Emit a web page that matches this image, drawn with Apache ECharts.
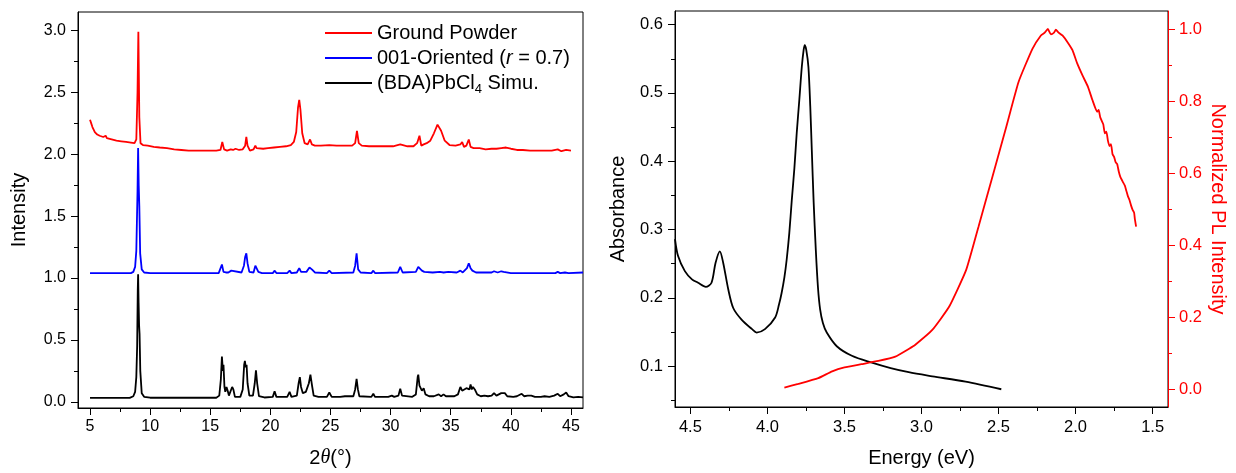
<!DOCTYPE html>
<html><head><meta charset="utf-8">
<script src="https://cdn.jsdelivr.net/npm/echarts@6/dist/echarts.min.js"></script>
<style>html,body{margin:0;padding:0;background:#fff}#c{width:1236px;height:473px}</style>
</head><body><div id="c"></div>
<script>
// ---------- XRD (left panel) ----------
const groundX = [5.0,5.1,5.2,5.4,5.6,5.8,6.1,6.3,6.4,6.8,7.2,7.6,8.0,8.4,8.7,8.85,8.95,9.02,9.1,9.2,9.4,9.8,10.3,10.8,11.4,12.0,12.6,13.2,13.8,14.4,15.0,15.5,15.85,16.0,16.15,16.4,16.7,16.9,17.1,17.4,17.7,17.9,18.0,18.1,18.3,18.6,18.75,18.85,19.0,19.4,19.8,20.3,20.8,21.3,21.7,21.95,22.15,22.3,22.4,22.5,22.65,22.85,23.1,23.3,23.45,23.7,24.2,24.9,25.5,26.2,26.8,27.05,27.2,27.35,27.6,28.2,28.8,29.5,30.2,30.8,31.4,31.9,32.2,32.4,32.55,32.75,33.0,33.3,33.6,33.9,34.2,34.5,34.9,35.4,35.8,35.95,36.1,36.3,36.5,36.65,36.9,37.4,37.9,38.4,38.8,39.2,39.6,40.0,40.5,41.0,41.6,42.2,42.8,43.4,43.9,44.2,44.6,45.0];
const groundY = [2.28,2.25,2.22,2.18,2.16,2.15,2.14,2.15,2.13,2.12,2.11,2.105,2.10,2.095,2.09,2.12,2.5,2.99,2.3,2.09,2.075,2.07,2.06,2.055,2.05,2.04,2.035,2.03,2.03,2.03,2.03,2.03,2.035,2.10,2.04,2.03,2.04,2.035,2.045,2.035,2.04,2.07,2.14,2.07,2.03,2.04,2.07,2.05,2.04,2.045,2.05,2.055,2.06,2.065,2.075,2.10,2.18,2.38,2.44,2.36,2.17,2.09,2.08,2.12,2.08,2.07,2.07,2.075,2.07,2.07,2.07,2.09,2.19,2.09,2.07,2.065,2.065,2.065,2.065,2.08,2.065,2.065,2.09,2.15,2.07,2.08,2.09,2.11,2.17,2.24,2.19,2.11,2.075,2.07,2.08,2.10,2.06,2.07,2.12,2.06,2.05,2.05,2.04,2.045,2.045,2.05,2.055,2.045,2.035,2.035,2.03,2.03,2.03,2.03,2.04,2.025,2.035,2.03];

const orientX = [5.0,8.4,8.6,8.75,8.85,8.95,9.0,9.05,9.1,9.17,9.3,9.5,10.0,15.7,15.85,15.97,16.1,16.3,16.4,16.5,16.75,16.9,17.6,17.8,17.9,18.0,18.1,18.25,18.6,18.75,18.85,19.0,19.3,20.2,20.36,20.5,21.4,21.6,21.75,22.2,22.4,22.55,23.0,23.25,23.45,23.7,24.7,24.9,25.1,26.9,27.05,27.17,27.3,27.5,28.4,28.56,28.7,30.6,30.8,31.0,32.1,32.3,32.45,32.6,32.8,33.5,34.1,34.4,34.8,35.5,35.8,36.0,36.35,36.5,36.65,36.8,37.1,38.4,38.6,38.9,39.2,39.4,40.0,40.9,41.0,41.2,43.7,43.9,44.1,44.5,44.6,44.8,46.0];
const orientY = [1.04,1.04,1.05,1.09,1.22,1.7,2.05,1.75,1.58,1.2,1.07,1.045,1.04,1.04,1.05,1.11,1.05,1.045,1.055,1.045,1.06,1.045,1.045,1.1,1.17,1.2,1.12,1.05,1.045,1.1,1.09,1.05,1.04,1.04,1.06,1.04,1.04,1.06,1.04,1.045,1.08,1.05,1.05,1.085,1.07,1.045,1.04,1.06,1.04,1.045,1.1,1.2,1.07,1.045,1.04,1.06,1.04,1.045,1.09,1.045,1.05,1.09,1.09,1.06,1.05,1.045,1.05,1.045,1.05,1.045,1.06,1.045,1.08,1.12,1.08,1.06,1.045,1.045,1.055,1.045,1.055,1.05,1.04,1.04,1.055,1.04,1.04,1.05,1.04,1.045,1.055,1.04,1.045];

const simuX = [5.0,8.3,8.6,8.75,8.85,8.92,8.97,9.0,9.04,9.08,9.12,9.18,9.3,9.5,10.0,15.5,15.75,15.88,15.97,16.05,16.1,16.18,16.25,16.35,16.45,16.55,16.7,16.82,16.92,17.05,17.5,17.7,17.82,17.88,17.95,18.02,18.1,18.25,18.55,18.7,18.8,18.9,19.05,19.5,20.2,20.35,20.5,21.4,21.6,21.75,22.2,22.35,22.45,22.55,22.7,22.8,22.95,23.05,23.2,23.33,23.45,23.6,24.0,24.7,24.9,25.1,25.8,26.2,26.9,27.05,27.17,27.28,27.4,28.4,28.56,28.7,29.8,30.1,30.3,30.65,30.8,30.95,31.8,32.1,32.25,32.3,32.4,32.5,32.6,32.75,32.9,33.2,33.6,34.0,34.2,34.4,34.6,35.0,35.3,35.6,35.8,35.95,36.1,36.3,36.45,36.55,36.65,36.75,36.85,37.0,37.2,37.5,37.8,38.1,38.4,38.6,38.8,39.0,39.2,39.35,39.5,39.7,40.2,40.5,40.9,41.1,41.4,41.7,42.0,42.5,42.8,43.2,43.6,43.9,44.1,44.4,44.6,44.8,45.2,45.6,46.0];
const simuY = [0.032,0.032,0.045,0.08,0.2,0.45,0.9,1.03,0.8,0.62,0.55,0.25,0.07,0.04,0.033,0.033,0.05,0.18,0.365,0.25,0.3,0.12,0.08,0.12,0.09,0.05,0.06,0.12,0.1,0.04,0.04,0.1,0.3,0.33,0.28,0.3,0.15,0.05,0.05,0.15,0.255,0.15,0.045,0.035,0.04,0.085,0.04,0.04,0.08,0.04,0.05,0.15,0.2,0.12,0.07,0.07,0.08,0.07,0.15,0.22,0.14,0.05,0.04,0.04,0.075,0.04,0.04,0.045,0.045,0.1,0.185,0.1,0.045,0.04,0.065,0.04,0.04,0.05,0.04,0.05,0.105,0.05,0.04,0.06,0.2,0.22,0.13,0.125,0.09,0.11,0.06,0.045,0.045,0.06,0.045,0.06,0.045,0.045,0.045,0.06,0.12,0.09,0.085,0.11,0.125,0.1,0.14,0.1,0.12,0.1,0.06,0.045,0.05,0.045,0.05,0.07,0.05,0.06,0.07,0.055,0.07,0.045,0.04,0.045,0.065,0.045,0.05,0.05,0.04,0.04,0.045,0.04,0.05,0.065,0.045,0.06,0.075,0.045,0.035,0.04,0.035];

const xrdXTicks = [5,10,15,20,25,30,35,40,45];
const xrdXMinor = [7.5,12.5,17.5,22.5,27.5,32.5,37.5,42.5];
const xrdYTicks = [0,0.5,1.0,1.5,2.0,2.5,3.0];
const xrdYMinor = [0.25,0.75,1.25,1.75,2.25,2.75];

// ---------- Absorbance / PL (right panel) ----------
const absE = [4.6,4.58,4.536,4.49,4.45,4.40,4.363,4.337,4.309,4.287,4.254,4.222,4.168,4.10,4.07,4.016,3.95,3.925,3.908,3.89,3.875,3.858,3.842,3.825,3.81,3.793,3.777,3.765,3.758,3.748,3.734,3.722,3.712,3.70,3.686,3.672,3.658,3.64,3.615,3.55,3.452,3.322,3.2,3.083,2.93,2.714,2.482];
const absA = [0.286,0.261,0.239,0.227,0.222,0.216,0.222,0.251,0.268,0.251,0.212,0.185,0.168,0.154,0.149,0.154,0.171,0.19,0.207,0.23,0.256,0.295,0.343,0.39,0.441,0.49,0.538,0.563,0.570,0.563,0.538,0.48,0.416,0.34,0.27,0.215,0.183,0.163,0.149,0.129,0.115,0.105,0.097,0.091,0.085,0.077,0.066];

const plE = [3.89,3.80,3.67,3.58,3.50,3.39,3.28,3.17,3.08,3.04,2.93,2.82,2.71,2.63,2.54,2.45,2.37,2.28,2.225,2.20,2.18,2.16,2.14,2.128,2.11,2.085,2.05,2.02,1.99,1.955,1.92,1.89,1.86,1.85,1.84,1.83,1.82,1.81,1.80,1.79,1.78,1.77,1.76,1.75,1.74,1.73,1.72,1.71,1.694,1.68,1.67,1.66,1.65,1.64,1.629,1.62,1.615,1.607];
const plI = [0.004,0.014,0.030,0.049,0.060,0.069,0.078,0.090,0.112,0.123,0.164,0.229,0.331,0.451,0.589,0.728,0.853,0.945,0.982,0.99,1.0,0.985,0.99,0.998,0.99,0.982,0.962,0.941,0.905,0.871,0.84,0.802,0.77,0.775,0.755,0.745,0.735,0.71,0.715,0.69,0.675,0.68,0.652,0.645,0.63,0.625,0.605,0.59,0.576,0.565,0.55,0.535,0.525,0.51,0.497,0.49,0.472,0.451];

const eTicks = [1.5,2.0,2.5,3.0,3.5,4.0,4.5];
const eMinor = [1.75,2.25,2.75,3.25,3.75,4.25];
const absTicks = [0.1,0.2,0.3,0.4,0.5,0.6];
const absMinor = [0.05,0.15,0.25,0.35,0.45,0.55];
const plTicks = [0,0.2,0.4,0.6,0.8,1.0];
const plMinor = [0.1,0.3,0.5,0.7,0.9];

const pairs = (xs, ys) => xs.map((x, i) => [x, ys[i]]);
const FONT = 'Liberation Sans, Arial, sans-serif';

function majorAxis(o) {
  const color = o.color || '#000';
  return Object.assign({
    type: 'value', min: o.min, max: o.max, gridIndex: o.grid, position: o.pos,
    inverse: !!o.inverse,
    axisLine: {show: true, onZero: false, lineStyle: {color: color, width: 1}},
    axisTick: {show: true, inside: false, length: 7, customValues: o.ticks, lineStyle: {color: color, width: 1}},
    axisLabel: {show: true, customValues: o.ticks, margin: o.margin, color: color, fontSize: o.fs || 16, fontFamily: FONT,
      formatter: o.fmt},
    splitLine: {show: false}, minorTick: {show: false}
  }, o.extra || {});
}
function minorAxis(o) {
  const color = o.color || '#000';
  return {
    type: 'value', min: o.min, max: o.max, gridIndex: o.grid, position: o.pos, inverse: !!o.inverse,
    axisLine: {show: false, onZero: false},
    axisTick: {show: true, inside: false, length: 4, customValues: o.ticks, lineStyle: {color: color, width: 1}},
    axisLabel: {show: false}, splitLine: {show: false}
  };
}

const nameStyle = {fontSize: 20, fontFamily: FONT, color: '#000'};

const option = {
  animation: false,
  backgroundColor: '#fff',
  grid: [
    {left: 78, top: 12, width: 505, height: 397, show: true, borderColor: '#000', borderWidth: 1, backgroundColor: 'transparent'},
    {left: 675, top: 11, width: 493, height: 396, show: true, borderColor: '#000', borderWidth: 1, backgroundColor: 'transparent'}
  ],
  legend: {
    left: 325, top: 20, orient: 'vertical', padding: 0, itemGap: -1,
    itemWidth: 47, itemHeight: 2, icon: 'rect',
    data: ['Ground Powder', '001-Oriented (r = 0.7)', '(BDA)PbCl4 Simu.'],
    formatter: function (n) {
      if (n === '001-Oriented (r = 0.7)') return '001-Oriented ({it|r} = 0.7)';
      if (n === '(BDA)PbCl4 Simu.') return '(BDA)PbCl{sub|4} Simu.';
      return n;
    },
    textStyle: {fontSize: 20, fontFamily: FONT, color: '#000', lineHeight: 26,
      rich: {
        it: {fontSize: 20, fontFamily: FONT, fontStyle: 'italic', color: '#000', lineHeight: 26},
        sub: {fontSize: 13, fontFamily: FONT, color: '#000', verticalAlign: 'top', lineHeight: 13, padding: [13, 0, 0, 0]}
      }}
  },
  xAxis: [
    majorAxis({grid: 0, pos: 'bottom', min: 4, max: 46, ticks: xrdXTicks, margin: 11, fmt: v => String(v),
      extra: {name: '2{it|θ}(°)', nameLocation: 'middle', nameGap: 40,
        nameTextStyle: Object.assign({}, nameStyle, {rich: {it: {fontSize: 20, fontFamily: 'Liberation Serif, serif', fontStyle: 'italic', color: '#000'}}})}}),
    minorAxis({grid: 0, pos: 'bottom', min: 4, max: 46, ticks: xrdXMinor}),
    majorAxis({grid: 1, pos: 'bottom', min: 1.4, max: 4.6, inverse: true, ticks: eTicks, margin: 12, fs: 16.5, fmt: v => v.toFixed(1),
      extra: {name: 'Energy (eV)', nameLocation: 'middle', nameGap: 41, nameTextStyle: nameStyle}}),
    minorAxis({grid: 1, pos: 'bottom', min: 1.4, max: 4.6, inverse: true, ticks: eMinor})
  ],
  yAxis: [
    majorAxis({grid: 0, pos: 'left', min: -0.05, max: 3.15, ticks: xrdYTicks, margin: 12, fmt: v => v.toFixed(1),
      extra: {name: 'Intensity', nameLocation: 'middle', nameGap: 49, nameTextStyle: nameStyle}}),
    minorAxis({grid: 0, pos: 'left', min: -0.05, max: 3.15, ticks: xrdYMinor}),
    majorAxis({grid: 1, pos: 'left', min: 0.04, max: 0.62, ticks: absTicks, margin: 12, fs: 16.5, fmt: v => v.toFixed(1),
      extra: {name: 'Absorbance', nameLocation: 'middle', nameGap: 47, nameTextStyle: nameStyle}}),
    minorAxis({grid: 1, pos: 'left', min: 0.04, max: 0.62, ticks: absMinor}),
    majorAxis({grid: 1, pos: 'right', min: -0.05, max: 1.05, ticks: plTicks, margin: 11, fs: 16.5, color: '#ff0000', fmt: v => v.toFixed(1),
      extra: {name: 'Normalized PL Intensity', nameLocation: 'middle', nameGap: 40, nameRotate: -90,
        nameTextStyle: Object.assign({}, nameStyle, {color: '#ff0000'})}}),
    minorAxis({grid: 1, pos: 'right', min: -0.05, max: 1.05, ticks: plMinor, color: '#ff0000'})
  ],
  series: [
    {name: 'Ground Powder', type: 'line', xAxisIndex: 0, yAxisIndex: 0, data: pairs(groundX, groundY),
      symbol: 'none', color: '#ff0000', lineStyle: {color: '#ff0000', width: 1.8}},
    {name: '001-Oriented (r = 0.7)', type: 'line', xAxisIndex: 0, yAxisIndex: 0, data: pairs(orientX, orientY),
      symbol: 'none', color: '#0000ff', lineStyle: {color: '#0000ff', width: 1.8}},
    {name: '(BDA)PbCl4 Simu.', type: 'line', xAxisIndex: 0, yAxisIndex: 0, data: pairs(simuX, simuY),
      symbol: 'none', color: '#000000', lineStyle: {color: '#000000', width: 1.8}},
    {name: 'Absorbance', type: 'line', xAxisIndex: 2, yAxisIndex: 2, data: pairs(absE, absA),
      symbol: 'none', smooth: 0.3, color: '#000000', lineStyle: {color: '#000000', width: 1.8}},
    {name: 'PL', type: 'line', xAxisIndex: 2, yAxisIndex: 4, data: pairs(plE, plI),
      symbol: 'none', smooth: 0.15, color: '#ff0000', lineStyle: {color: '#ff0000', width: 1.8}}
  ]
};
const chart = echarts.init(document.getElementById('c'), null, {renderer: 'canvas'});
chart.setOption(option);
</script></body></html>
